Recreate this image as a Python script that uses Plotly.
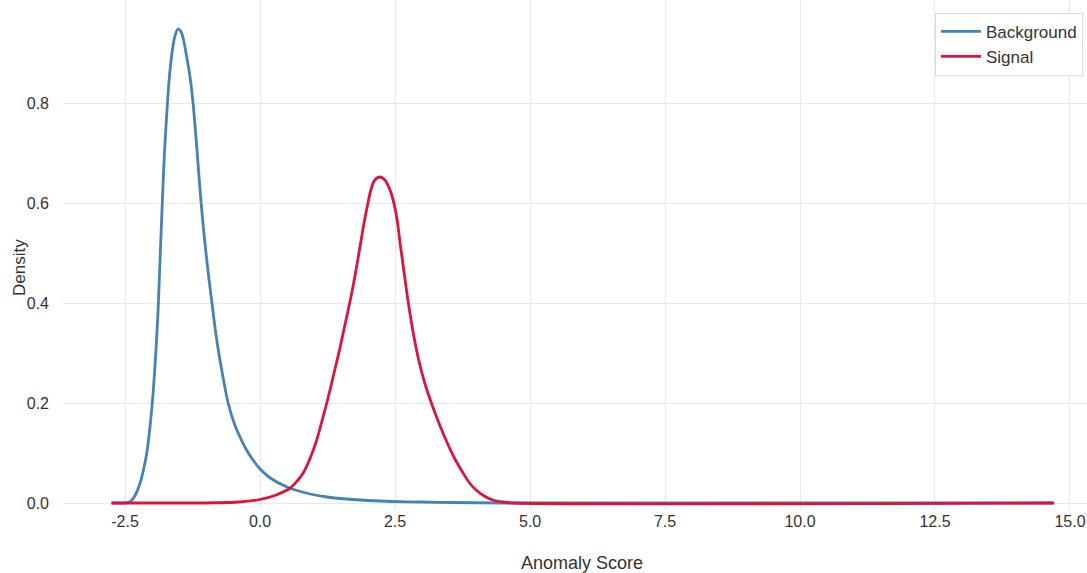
import plotly.graph_objects as go

# Kernel density estimates of the anomaly score for each class
background_x = [-2.75, -2.5, -2.45, -2.38, -2.3, -2.22, -2.15, -2.09, -2.03, -1.98,
                -1.93, -1.89, -1.85, -1.81, -1.77, -1.72, -1.68, -1.63, -1.58, -1.52,
                -1.46, -1.42, -1.37, -1.3, -1.24, -1.17, -1.11, -1.05, -1.0, -0.95,
                -0.89, -0.82, -0.74, -0.59, -0.48, -0.37, -0.25, -0.13, 0.0, 0.19,
                0.5, 0.93, 1.24, 1.6, 2.0, 2.46, 3.0, 3.5, 4.5, 14.7]
background_y = [0.0, 0.0, 0.001, 0.005, 0.018, 0.04, 0.07, 0.105, 0.16, 0.22,
                0.3, 0.38, 0.49, 0.6, 0.7, 0.79, 0.85, 0.9, 0.932, 0.948,
                0.942, 0.928, 0.9, 0.855, 0.8, 0.71, 0.625, 0.552, 0.5, 0.452,
                0.4, 0.34, 0.285, 0.2, 0.16, 0.132, 0.106, 0.086, 0.068, 0.05,
                0.032, 0.018, 0.012, 0.008, 0.005, 0.003, 0.002, 0.001, 0.0, 0.0]

signal_x = [-2.75, -1.5, -0.8, -0.4, 0.0, 0.3, 0.56, 0.68, 0.8, 0.93,
            1.05, 1.15, 1.26, 1.36, 1.47, 1.57, 1.68, 1.76, 1.84, 1.91,
            1.98, 2.05, 2.12, 2.22, 2.32, 2.4, 2.45, 2.5, 2.55, 2.6,
            2.67, 2.74, 2.83, 2.93, 3.05, 3.19, 3.32, 3.46, 3.6, 3.76,
            3.88, 4.0, 4.15, 4.31, 4.5, 4.7, 14.7]
signal_y = [0.0, 0.0, 0.0005, 0.002, 0.007, 0.016, 0.03, 0.043, 0.06, 0.09,
            0.126, 0.165, 0.21, 0.255, 0.305, 0.355, 0.41, 0.455, 0.505, 0.55,
            0.59, 0.625, 0.645, 0.652, 0.645, 0.628, 0.612, 0.59, 0.558, 0.515,
            0.46, 0.405, 0.345, 0.29, 0.24, 0.195, 0.158, 0.122, 0.09, 0.06,
            0.04, 0.026, 0.014, 0.006, 0.002, 0.0, 0.0]

x_ticks = [-2.5, 0.0, 2.5, 5.0, 7.5, 10.0, 12.5, 15.0]
y_ticks = [0.0, 0.2, 0.4, 0.6, 0.8]

FONT = "Liberation Sans, Arial, sans-serif"
TEXT = "#333333"
GRID = "#e9e9e9"

fig = go.Figure()
fig.add_trace(go.Scatter(
    x=background_x, y=background_y, mode="lines", name="Background",
    legendgroup="background",
    line=dict(color="#4682B4", width=2.8, shape="spline", smoothing=0.8),
))
fig.add_trace(go.Scatter(
    x=signal_x, y=signal_y, mode="lines", name="Signal",
    legendgroup="signal",
    line=dict(color="#DC143C", width=2.8, shape="spline", smoothing=0.8),
))

fig.update_layout(
    width=1087, height=573,
    margin=dict(l=62, r=0, t=0, b=63),
    paper_bgcolor="white", plot_bgcolor="white",
    font=dict(family=FONT, size=16, color=TEXT),
    showlegend=True,
    legend=dict(
        x=0.996, xanchor="right", y=0.975, yanchor="top",
        bgcolor="white", bordercolor="#dddddd", borderwidth=1,
        font=dict(family=FONT, size=17, color=TEXT),
        itemwidth=40, tracegroupgap=0,
    ),
    xaxis=dict(
        range=[-3.667, 15.315], tickvals=x_ticks,
        ticktext=[f"{v:.1f}" for v in x_ticks],
        tickfont=dict(family=FONT, size=16, color=TEXT),
        showgrid=True, gridcolor=GRID, gridwidth=1,
        zeroline=False, showline=False, ticks="",
        ticklabelstandoff=0,
    ),
    yaxis=dict(
        range=[-0.014, 1.006], tickvals=y_ticks,
        ticktext=[f"{v:.1f}" for v in y_ticks],
        tickfont=dict(family=FONT, size=16, color=TEXT),
        showgrid=True, gridcolor=GRID, gridwidth=1,
        zeroline=False, showline=False, ticks="",
        ticklabelstandoff=12,
    ),
    annotations=[
        dict(text="Density", textangle=-90, showarrow=False,
             xref="paper", yref="paper", x=-0.041, y=0.4765,
             xanchor="center", yanchor="middle",
             font=dict(family=FONT, size=17, color=TEXT)),
        dict(text="Anomaly Score", showarrow=False,
             xref="paper", yref="paper", x=0.507, y=-0.104,
             xanchor="center", yanchor="middle",
             font=dict(family=FONT, size=18, color=TEXT)),
    ],
)

fig.write_html("out.html")
